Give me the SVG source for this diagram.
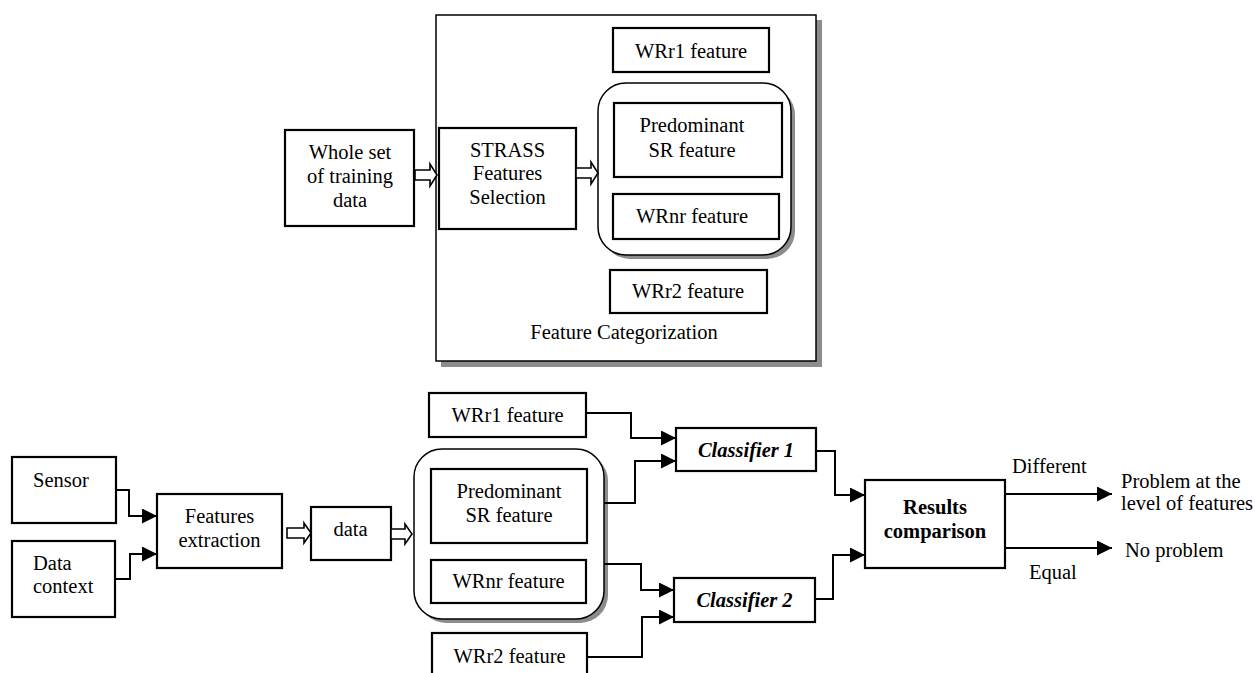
<svg xmlns="http://www.w3.org/2000/svg" width="1255" height="673" viewBox="0 0 1255 673" font-family="'Liberation Serif', 'Times New Roman', Times, serif" font-size="20.5">
  <defs>
    <marker id="arrow" markerUnits="userSpaceOnUse" markerWidth="16" markerHeight="16" refX="15" refY="7.5" orient="auto">
      <path d="M0,0 L15,7.5 L0,15 Z" fill="#000"/>
    </marker>
  </defs>
  <style>
    .c { text-anchor: middle; }
    .b { font-weight: bold; }
    .bi { font-weight: bold; font-style: italic; }
    .box { fill: #fff; stroke: #000; stroke-width: 2.2; }
    .frame { fill: #fff; stroke: #000; stroke-width: 1.5; }
    .shadow { fill: #8c8c8c; stroke: none; }
    .hollow { fill: #fff; stroke: #000; stroke-width: 1.6; stroke-linejoin: miter; }
    .wire { fill: none; stroke: #000; stroke-width: 2; }
  </style>

  <rect width="1255" height="673" fill="#fff"/>

  <!-- Training stage -->
  <g id="feature-categorization">
    <rect class="shadow" x="441" y="20" width="381" height="347"/>
    <rect class="frame" x="436" y="15" width="380" height="346"/>
    <text class="c" x="624" y="339">Feature Categorization</text>
  </g>

  <g id="training-data">
    <rect class="box" x="285" y="130" width="129" height="96"/>
    <text class="c" x="350" y="159">Whole set</text>
    <text class="c" x="350" y="183">of training</text>
    <text class="c" x="350" y="207">data</text>
  </g>

  <g id="strass-selection">
    <rect class="box" x="439" y="128" width="137" height="101"/>
    <text class="c" x="507.5" y="157">STRASS</text>
    <text class="c" x="507.5" y="180">Features</text>
    <text class="c" x="507.5" y="204">Selection</text>
  </g>

  <g id="top-group">
    <rect class="shadow" x="602" y="87" width="193" height="172" rx="28"/>
    <rect class="frame" x="598" y="83" width="193" height="172" rx="28"/>
  </g>

  <g id="top-predominant">
    <rect class="box" x="614" y="103" width="168" height="74"/>
    <text class="c" x="692" y="132">Predominant</text>
    <text class="c" x="692" y="157">SR feature</text>
  </g>

  <g id="top-wrnr">
    <rect class="box" x="613" y="194" width="166" height="45"/>
    <text class="c" x="692" y="223">WRnr feature</text>
  </g>

  <g id="top-wrr1">
    <rect class="box" x="613" y="28" width="156" height="44"/>
    <text class="c" x="691" y="58">WRr1 feature</text>
  </g>

  <g id="top-wrr2">
    <rect class="box" x="610" y="270" width="157" height="43"/>
    <text class="c" x="688" y="298">WRr2 feature</text>
  </g>

  <!-- Detection stage -->
  <g id="sensor">
    <rect class="box" x="12" y="457" width="104" height="66"/>
    <text x="33" y="487">Sensor</text>
  </g>

  <g id="data-context">
    <rect class="box" x="12" y="541" width="103" height="76"/>
    <text x="33" y="570">Data</text>
    <text x="33" y="593">context</text>
  </g>

  <g id="features-extraction">
    <rect class="box" x="157" y="494" width="125" height="74"/>
    <text class="c" x="219.5" y="523">Features</text>
    <text class="c" x="219.5" y="547">extraction</text>
  </g>

  <g id="data">
    <rect class="box" x="311" y="507" width="80" height="53"/>
    <text class="c" x="350.5" y="536">data</text>
  </g>

  <g id="bottom-group">
    <rect class="shadow" x="418" y="453" width="190" height="170" rx="28"/>
    <rect class="frame" x="414" y="449" width="190" height="170" rx="28"/>
  </g>

  <g id="bottom-predominant">
    <rect class="box" x="431" y="469" width="156" height="74"/>
    <text class="c" x="509" y="498">Predominant</text>
    <text class="c" x="509" y="522">SR feature</text>
  </g>

  <g id="bottom-wrnr">
    <rect class="box" x="431" y="560" width="155" height="43"/>
    <text class="c" x="508.5" y="588">WRnr feature</text>
  </g>

  <g id="bottom-wrr1">
    <rect class="box" x="429" y="393" width="157" height="44"/>
    <text class="c" x="507.5" y="422">WRr1 feature</text>
  </g>

  <g id="bottom-wrr2">
    <rect class="box" x="432" y="633" width="155" height="50"/>
    <text class="c" x="509.5" y="663">WRr2 feature</text>
  </g>

  <g id="classifier-1">
    <rect class="box" x="676" y="428" width="140" height="43"/>
    <text class="c bi" x="746" y="457">Classifier 1</text>
  </g>

  <g id="classifier-2">
    <rect class="box" x="674" y="578" width="141" height="44"/>
    <text class="c bi" x="744.5" y="607">Classifier 2</text>
  </g>

  <g id="results-comparison">
    <rect class="box" x="865" y="480" width="140" height="88"/>
    <text class="c b" x="935" y="514">Results</text>
    <text class="c b" x="935" y="538">comparison</text>
  </g>

  <g id="outcomes">
    <text x="1121" y="488">Problem at the</text>
    <text x="1121" y="510">level of features</text>
    <text x="1125" y="557">No problem</text>
  </g>

  <!-- Connectors -->
  <g id="connectors">
    <!-- hollow block arrows -->
    <polygon class="hollow" points="415,170 430,170 430,164 437,175 430,186 430,180 415,180"/>
    <polygon class="hollow" points="576,168 591,168 591,162 598,173 591,184 591,178 576,178"/>
    <polygon class="hollow" points="287,528 304,528 304,523 311,533 304,543 304,538 287,538"/>
    <polygon class="hollow" points="391,529 405,529 405,524 412,534 405,544 405,539 391,539"/>

    <path class="wire" d="M116,490 H129 V516 H157" marker-end="url(#arrow)"/>
    <path class="wire" d="M116,579 H130 V554 H157" marker-end="url(#arrow)"/>

    <path class="wire" d="M586,413 H631 V438 H676" marker-end="url(#arrow)"/>
    <path class="wire" d="M604,503 H635 V461 H676" marker-end="url(#arrow)"/>
    <path class="wire" d="M604,564 H641 V590 H674" marker-end="url(#arrow)"/>
    <path class="wire" d="M587,657 H642 V617 H674" marker-end="url(#arrow)"/>

    <path class="wire" d="M816,451 H835 V495 H865" marker-end="url(#arrow)"/>
    <path class="wire" d="M815,599 H833 V555 H865" marker-end="url(#arrow)"/>

    <path class="wire" d="M1005,494 H1112" marker-end="url(#arrow)"/>
    <path class="wire" d="M1005,548 H1112" marker-end="url(#arrow)"/>
    <text x="1012" y="473">Different</text>
    <text x="1029" y="579">Equal</text>
  </g>
</svg>
